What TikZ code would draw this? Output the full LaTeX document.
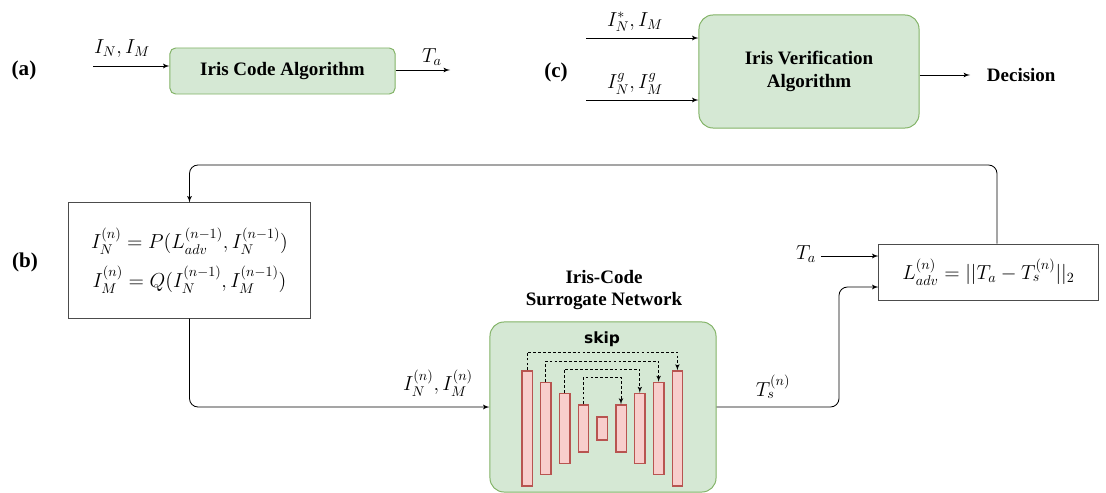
\documentclass[tikz,border=0pt]{standalone}
\usepackage{amsmath}
\usepackage{fontspec}
\setmainfont{Liberation Serif}
\newfontfamily\skipfont{DejaVu Sans}
\usepackage{tikz}
\usetikzlibrary{positioning}
\usetikzlibrary{shapes,backgrounds,arrows}
\definecolor{boxgreen}{HTML}{D5E8D4}
\definecolor{edgegreen}{HTML}{82B366}
\definecolor{barred}{HTML}{F8CECC}
\definecolor{edgered}{HTML}{B85450}
\tikzstyle{line} = [draw, -latex', line width=0.6pt]
\tikzstyle{greenbox} = [draw=edgegreen, fill=boxgreen, line width=0.7pt, align=center, font=\fontsize{13.5}{16}\selectfont\bfseries]
\tikzstyle{eqbox} = [draw=black!70, line width=0.7pt, align=center, font=\fontsize{14}{17}\selectfont]
\tikzstyle{lbl} = [font=\fontsize{14}{17}\selectfont]
\tikzstyle{part} = [font=\fontsize{15}{18}\selectfont\bfseries]
\tikzstyle{bar} = [draw=edgered, fill=barred, line width=1pt, minimum width=0.26cm, inner sep=0pt]
\tikzstyle{skipline} = [draw, dashed, dash pattern=on 2pt off 1.5pt, -latex', line width=0.5pt]

\begin{document}
\begin{tikzpicture}[x=0.025cm, y=-0.025cm]
	\useasboundingbox (0,0) rectangle (1106,493);

	% (a)
	\node[part] (pa) at (24,70) {(a)};
	\node[greenbox, rounded corners=4pt, minimum width=5.625cm, minimum height=1.15cm] (alg) at (282.5,71) {Iris Code Algorithm};
	\coordinate (ain) at (93,66);
	\coordinate (aout) at (450,70);
	\draw[line] (ain) -- (ain -| alg.west);
	\draw[line] (alg.east |- aout) -- (aout);
	\node[lbl] (inm) at (122,49) {$I_N, I_M$};
	\node[lbl] (ta1) at (432,57) {$T_a$};

	% (c)
	\node[part] (pc) at (556,72) {(c)};
	\node[greenbox, rounded corners=10pt, minimum width=5.5cm, minimum height=2.825cm] (verif) at (809,71.5) {Iris Verification\\Algorithm};
	\coordinate (cin1) at (586,38);
	\coordinate (cin2) at (586,100);
	\draw[line] (cin1) -- (cin1 -| verif.west);
	\draw[line] (cin2) -- (cin2 -| verif.west);
	\node[lbl] (star) at (635,22) {$I_N^{*}, I_M$};
	\node[lbl] (gen) at (635,84) {$I_N^{g}, I_M^{g}$};
	\node[font=\fontsize{13.5}{16}\selectfont\bfseries, anchor=west] (dec) at (982,75) {Decision};
	\draw[line] (verif.east |- dec) -- ([xshift=-0.3cm]dec.west);

	% (b)
	\node[part] (pb) at (25,262) {(b)};
	\node[eqbox, minimum width=6.025cm, minimum height=2.875cm] (upd) at (189.5,260.5)
		{$I_N^{(n)} = P(L_{adv}^{(n-1)}, I_N^{(n-1)})$\\[7pt] $I_M^{(n)} = Q(I_N^{(n-1)}, I_M^{(n-1)})$};
	\node[eqbox, minimum width=5.475cm, minimum height=1.4cm] (loss) at (988.5,272)
		{$L_{adv}^{(n)} = ||T_a - T_s^{(n)}||_2$};
	\node[greenbox, rounded corners=10pt, minimum width=5.65cm, minimum height=4.25cm] (net) at (603,407) {};
	\node[font=\fontsize{13.5}{16}\selectfont\bfseries, align=center] (title) at (604,290) {Iris-Code\\Surrogate Network};
	\node[font=\fontsize{11}{13}\selectfont\skipfont\bfseries] (skip) at (602,339) {skip};

	% encoder/decoder blocks
	\foreach \i/\h in {1/115,2/92,3/70,4/47,5/23,6/47,7/70,8/92,9/115}
		\node[bar, minimum height=\h*0.025cm] (b\i) at ({527+18.8*(\i-1)},428.5) {};

	% skip connections
	\draw[skipline] (b1.north) -- (b1.north |- 0,352) -| (b9.north);
	\draw[skipline] (b2.north) -- (b2.north |- 0,361) -| (b8.north);
	\draw[skipline] (b3.north) -- (b3.north |- 0,369) -| (b7.north);
	\draw[skipline] (b4.north) -- (b4.north |- 0,377) -| (b6.north);

	% loop
	\coordinate (fb) at (997,165);
	\draw[line, rounded corners=6pt] (fb |- loss.north) -- (fb) -| (upd.north);
	\draw[line, rounded corners=6pt] (upd.south) |- (net.west);
	\node[lbl] (imn) at (438,383) {$I_N^{(n)}, I_M^{(n)}$};
	\coordinate (ts) at (839,287);
	\draw[line, rounded corners=6pt] (net.east) -| (ts) -- (ts -| loss.west);
	\node[lbl] (tsn) at (773,387) {$T_s^{(n)}$};
	\node[lbl] (ta2) at (806,254) {$T_a$};
	\draw[line] (ta2.east |- 0,256) -- (loss.west |- 0,256);
\end{tikzpicture}
\end{document}
